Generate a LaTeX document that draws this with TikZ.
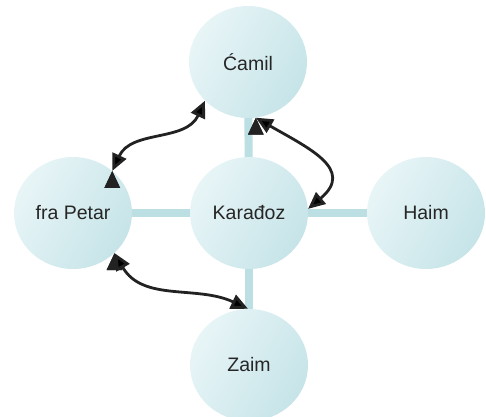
\documentclass[tikz,border=0pt]{standalone}
\usepackage{fontspec}
\setmainfont{Liberation Sans}
\usetikzlibrary{arrows.meta,shapes.geometric}
\definecolor{bubblelight}{HTML}{E8F5F7}
\definecolor{bubbledark}{HTML}{C6E4E8}
\definecolor{linkcol}{HTML}{BCDFE4}
\definecolor{arrowcol}{HTML}{222222}

\begin{document}
\begin{tikzpicture}[x=1pt,y=1pt,>={Triangle[length=17pt,width=15pt]},
  person/.style={ellipse,minimum width=118pt,minimum height=112pt,inner sep=0pt,
    left color=bubblelight,right color=bubbledark,shading angle=60,
    font=\fontsize{19.5}{22}\selectfont,text=black!85},
  link/.style={draw=linkcol,line width=8pt},
  rel/.style={draw=arrowcol,line width=2.8pt}]
  \useasboundingbox (0,0) rectangle (486,416);
  \node[person] (c) at (248,354) {Ćamil};
  \node[person] (k) at (249,203) {Karađoz};
  \node[person] (p) at (73,203)  {fra Petar};
  \node[person] (h) at (426,203) {Haim};
  \node[person] (z) at (249,51)  {Zaim};
  \path[link] (k) edge (c);
  \path[link] (k) edge (p);
  \path[link] (k) edge (h);
  \path[link] (k) edge (z);
  \path[<->,rel] (p.47)  edge[out=65,in=-115] (c.222);
  \path[<->,rel] (c.-82) edge[out=-30,in=40,looseness=1.5] (k.4);
  \path[<->,rel] (p.-44) edge[out=-60,in=155] (z.91);
\end{tikzpicture}
\end{document}
